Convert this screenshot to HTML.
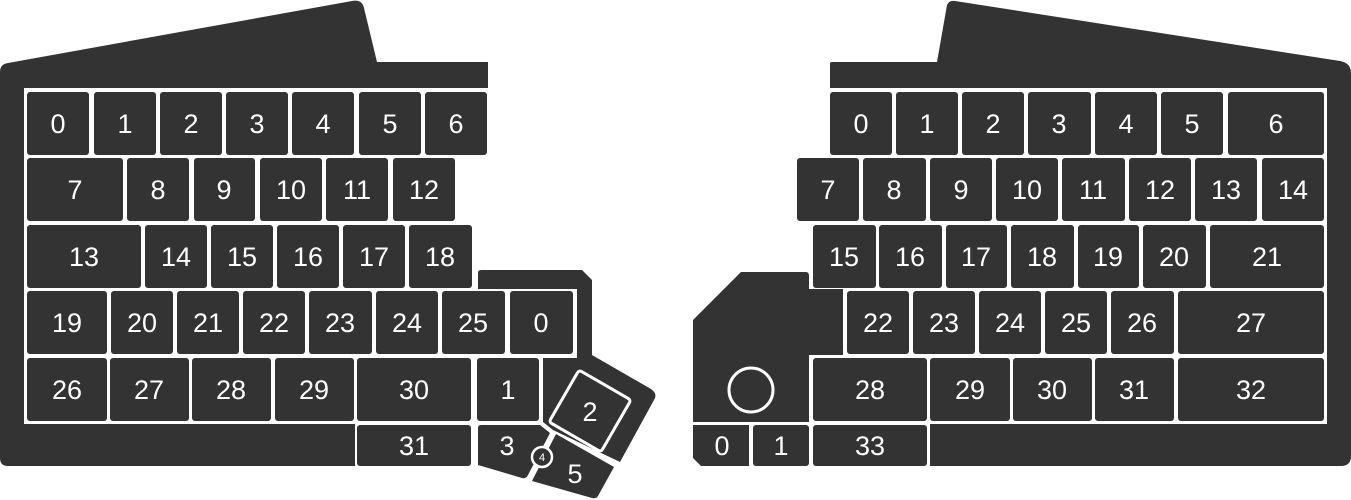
<!DOCTYPE html>
<html><head><meta charset="utf-8"><style>
html,body{margin:0;padding:0;background:#fff;}
svg{display:block}
text{font-family:"Liberation Sans",sans-serif;font-size:27px;fill:#fff;text-anchor:middle}
</style></head><body>
<svg width="1351" height="500" viewBox="0 0 1351 500" xmlns="http://www.w3.org/2000/svg">
<g fill="#333">
<!-- left body -->
<path d="M0,72 Q0,64 8,63 L352,1 Q362,-1 364,8 L377,62 L488,62 L488,88 L24,88 L24,424 L355,424 L355,466 L8,466 Q0,466 0,458 Z"/>
<!-- left thumb body -->
<path d="M478,273 Q478,270 481,270 L582,270 L592,280 L592,355 L651,389 Q658,394 654,400 L620,462 L553,430 L543,422 L543,358 L577,358 L577,289 L478,289 Z"/>
<!-- right body -->
<path d="M830,64 Q830,62 832,62 L937,62 L947,5 Q949,0 955,1 L1340,61 Q1351,63 1351,73 L1351,456 Q1351,466 1341,466 L930,466 L930,424 L1327,424 L1327,88 L830,88 Z"/>
<!-- right thumb body -->
<path d="M693,320 L741,272 L806,272 Q809,272 809,276 L809,289 L843,289 L843,355 L809,355 L809,422 L693,422 Z"/>
</g>
<g fill="#333">
<!-- left row0 -->
<rect x="27" y="92" width="62" height="63" rx="3"/><rect x="94" y="92" width="62" height="63" rx="3"/><rect x="160" y="92" width="62" height="63" rx="3"/><rect x="226" y="92" width="62" height="63" rx="3"/><rect x="292" y="92" width="62" height="63" rx="3"/><rect x="359" y="92" width="62" height="63" rx="3"/><rect x="425" y="92" width="62" height="63" rx="3"/>
<!-- row1 -->
<rect x="27" y="158" width="96" height="63" rx="3"/><rect x="127" y="158" width="62" height="63" rx="3"/><rect x="194" y="158" width="61" height="63" rx="3"/><rect x="260" y="158" width="62" height="63" rx="3"/><rect x="326" y="158" width="62" height="63" rx="3"/><rect x="393" y="158" width="62" height="63" rx="3"/>
<!-- row2 -->
<rect x="27" y="225" width="114" height="63" rx="3"/><rect x="145" y="225" width="62" height="63" rx="3"/><rect x="211" y="225" width="62" height="63" rx="3"/><rect x="277" y="225" width="62" height="63" rx="3"/><rect x="343" y="225" width="62" height="63" rx="3"/><rect x="409" y="225" width="63" height="63" rx="3"/>
<!-- row3 -->
<rect x="27" y="291" width="80" height="63" rx="3"/><rect x="111" y="291" width="62" height="63" rx="3"/><rect x="177" y="291" width="62" height="63" rx="3"/><rect x="243" y="291" width="62" height="63" rx="3"/><rect x="309" y="291" width="63" height="63" rx="3"/><rect x="376" y="291" width="62" height="63" rx="3"/><rect x="442" y="291" width="63" height="63" rx="3"/><rect x="510" y="291" width="63" height="63" rx="3"/>
<!-- row4 -->
<rect x="27" y="358" width="80" height="63" rx="3"/><rect x="110" y="358" width="79" height="63" rx="3"/><rect x="192" y="358" width="79" height="63" rx="3"/><rect x="275" y="358" width="79" height="63" rx="3"/><rect x="357" y="358" width="114" height="63" rx="3"/><rect x="477" y="358" width="62" height="63" rx="3"/>
<!-- row5 -->
<rect x="357" y="425" width="114" height="41" rx="3"/>
<path d="M478,428 Q478,425 481,425 L540,425 L550,433 L528,475 Q526,479 522,478 L478,465 Z"/>
<path d="M556,434 L614,467 L598,496 Q596,499 592,498 L532,481 Z"/>
<rect x="560" y="381" width="60" height="60" rx="3" transform="rotate(30 590 411)" stroke="#fff" stroke-width="3"/>
<circle cx="542" cy="457" r="10" stroke="#fff" stroke-width="2.5"/>

<!-- right row0 -->
<rect x="830" y="92" width="62" height="63" rx="3"/><rect x="896" y="92" width="62" height="63" rx="3"/><rect x="962" y="92" width="62" height="63" rx="3"/><rect x="1028" y="92" width="63" height="63" rx="3"/><rect x="1095" y="92" width="62" height="63" rx="3"/><rect x="1161" y="92" width="62" height="63" rx="3"/><rect x="1228" y="92" width="96" height="63" rx="3"/>
<!-- row1 -->
<rect x="797" y="158" width="62" height="63" rx="3"/><rect x="863" y="158" width="63" height="63" rx="3"/><rect x="930" y="158" width="62" height="63" rx="3"/><rect x="996" y="158" width="62" height="63" rx="3"/><rect x="1062" y="158" width="63" height="63" rx="3"/><rect x="1129" y="158" width="62" height="63" rx="3"/><rect x="1195" y="158" width="62" height="63" rx="3"/><rect x="1262" y="158" width="62" height="63" rx="3"/>
<!-- row2 -->
<rect x="813" y="225" width="63" height="63" rx="3"/><rect x="879" y="225" width="63" height="63" rx="3"/><rect x="946" y="225" width="61" height="63" rx="3"/><rect x="1011" y="225" width="63" height="63" rx="3"/><rect x="1078" y="225" width="61" height="63" rx="3"/><rect x="1143" y="225" width="63" height="63" rx="3"/><rect x="1210" y="225" width="114" height="63" rx="3"/>
<!-- row3 -->
<rect x="847" y="291" width="62" height="63" rx="3"/><rect x="913" y="291" width="62" height="63" rx="3"/><rect x="979" y="291" width="62" height="63" rx="3"/><rect x="1045" y="291" width="62" height="63" rx="3"/><rect x="1111" y="291" width="63" height="63" rx="3"/><rect x="1178" y="291" width="146" height="63" rx="3"/>
<!-- row4 -->
<rect x="813" y="358" width="114" height="63" rx="3"/><rect x="930" y="358" width="80" height="63" rx="3"/><rect x="1013" y="358" width="79" height="63" rx="3"/><rect x="1095" y="358" width="79" height="63" rx="3"/><rect x="1178" y="358" width="146" height="63" rx="3"/>
<!-- row5 -->
<rect x="813" y="425" width="114" height="41" rx="3"/>
<path d="M693,425 L749,425 L749,466 L701,466 L693,458 Z"/>
<rect x="753" y="425" width="56" height="41" rx="3"/>
<circle cx="751" cy="390" r="22" fill="none" stroke="#fff" stroke-width="3"/>
</g>
<g>
<text x="58" y="133">0</text><text x="125" y="133">1</text><text x="191" y="133">2</text><text x="257" y="133">3</text><text x="323" y="133">4</text><text x="390" y="133">5</text><text x="456" y="133">6</text>
<text x="75" y="199">7</text><text x="158" y="199">8</text><text x="224" y="199">9</text><text x="291" y="199">10</text><text x="357" y="199">11</text><text x="424" y="199">12</text>
<text x="84" y="266">13</text><text x="176" y="266">14</text><text x="242" y="266">15</text><text x="308" y="266">16</text><text x="374" y="266">17</text><text x="440" y="266">18</text>
<text x="67" y="332">19</text><text x="142" y="332">20</text><text x="208" y="332">21</text><text x="274" y="332">22</text><text x="340" y="332">23</text><text x="407" y="332">24</text><text x="473" y="332">25</text><text x="541" y="332">0</text>
<text x="67" y="399">26</text><text x="149" y="399">27</text><text x="231" y="399">28</text><text x="314" y="399">29</text><text x="414" y="399">30</text><text x="508" y="399">1</text>
<text x="414" y="455">31</text>
<text x="507" y="455">3</text>
<text x="590" y="421">2</text>
<text x="575" y="483">5</text>
<text x="542" y="461" style="font-size:11px">4</text>

<text x="861" y="133">0</text><text x="927" y="133">1</text><text x="993" y="133">2</text><text x="1059" y="133">3</text><text x="1126" y="133">4</text><text x="1192" y="133">5</text><text x="1276" y="133">6</text>
<text x="828" y="199">7</text><text x="894" y="199">8</text><text x="961" y="199">9</text><text x="1027" y="199">10</text><text x="1093" y="199">11</text><text x="1160" y="199">12</text><text x="1226" y="199">13</text><text x="1293" y="199">14</text>
<text x="844" y="266">15</text><text x="910" y="266">16</text><text x="976" y="266">17</text><text x="1042" y="266">18</text><text x="1108" y="266">19</text><text x="1174" y="266">20</text><text x="1267" y="266">21</text>
<text x="878" y="332">22</text><text x="944" y="332">23</text><text x="1010" y="332">24</text><text x="1076" y="332">25</text><text x="1142" y="332">26</text><text x="1251" y="332">27</text>
<text x="870" y="399">28</text><text x="970" y="399">29</text><text x="1052" y="399">30</text><text x="1134" y="399">31</text><text x="1251" y="399">32</text>
<text x="870" y="455">33</text><text x="722" y="455">0</text><text x="781" y="455">1</text>
</g>
</svg>
</body></html>
